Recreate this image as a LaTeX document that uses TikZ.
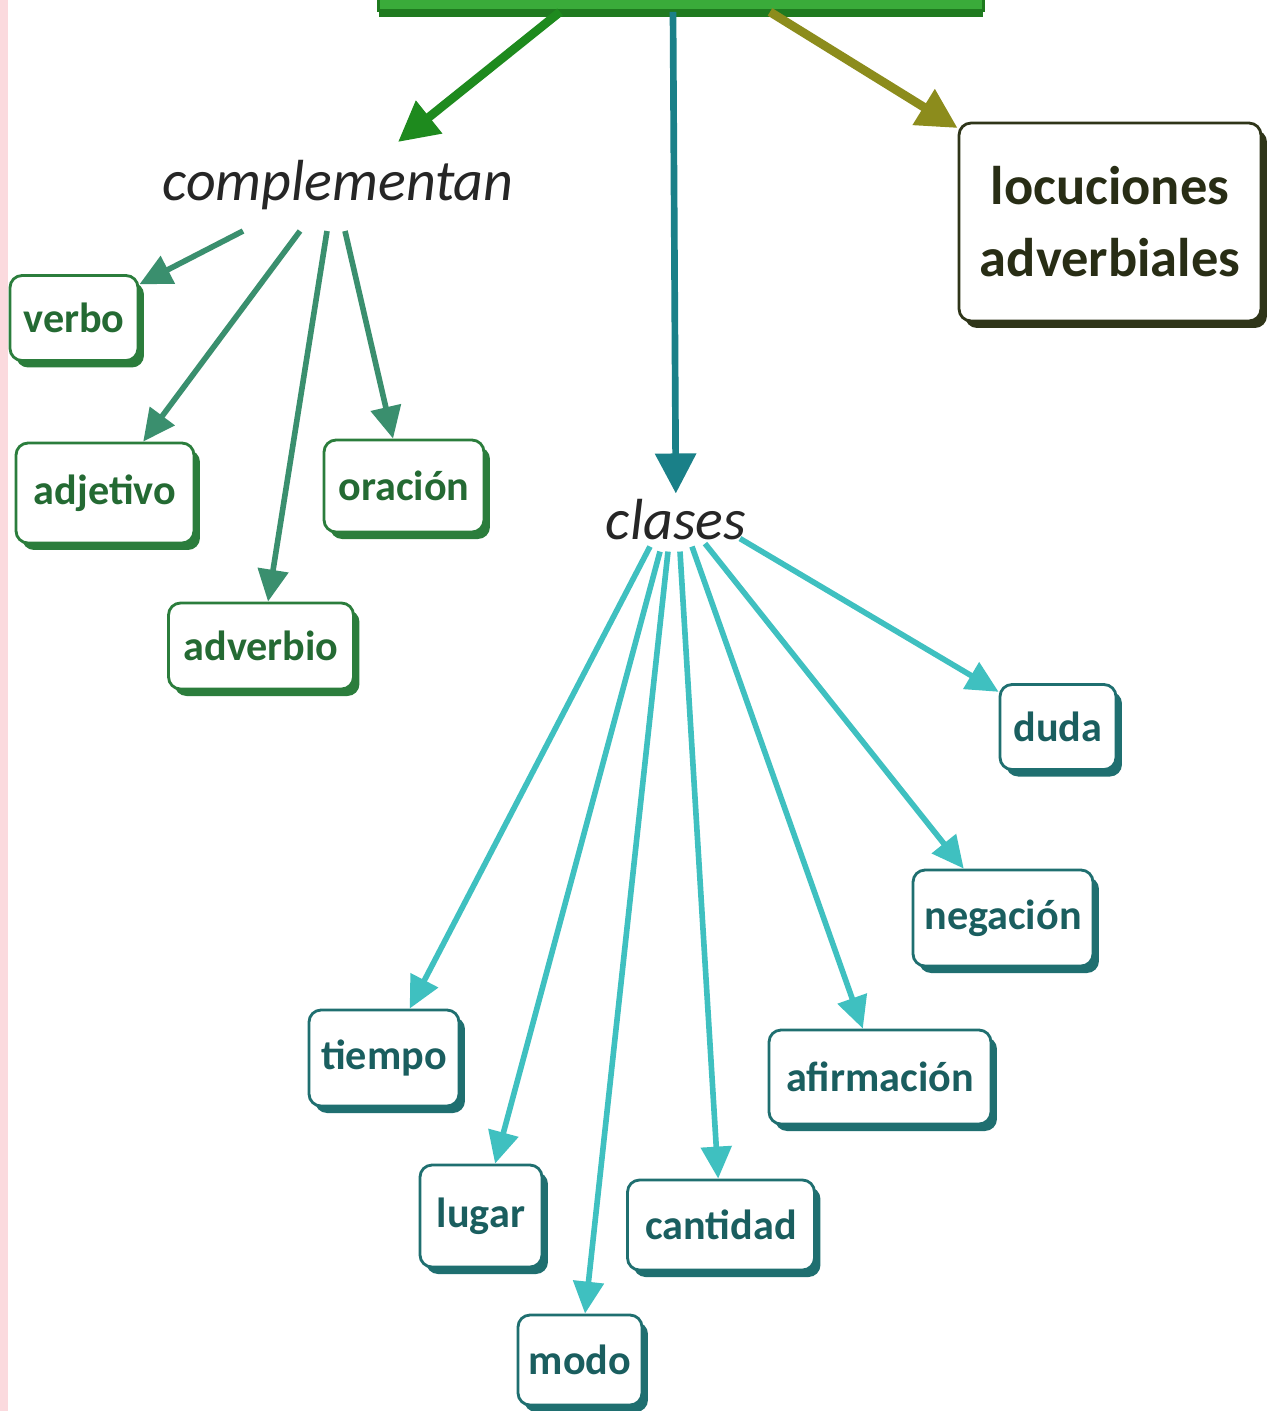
\documentclass[tikz,border=0pt]{standalone}
\usepackage{fontspec}
\setmainfont{Carlito}
\usetikzlibrary{arrows.meta,shadows}

\definecolor{rosa}{HTML}{FBDADE}
\definecolor{verdetema}{HTML}{3AAB3A}
\definecolor{verdeosc}{HTML}{1F7A1F}
\definecolor{flechaverde}{HTML}{1E8A1E}
\definecolor{flechaazul}{HTML}{1A8088}
\definecolor{flechaoliva}{HTML}{8C8C1C}
\definecolor{cajaverde}{HTML}{2B7D3C}
\definecolor{lineaverde}{HTML}{3A8F6E}
\definecolor{cajateal}{HTML}{1F6F70}
\definecolor{lineateal}{HTML}{3FC0C0}
\definecolor{oliva}{HTML}{2F3519}

\tikzset{
  caja/.style={draw=#1, text=#1!85!black, fill=white, line width=1.6pt,
    rounded corners=0.24cm, font=\fontsize{24}{28}\selectfont\bfseries,
    drop shadow={shadow xshift=0.12cm, shadow yshift=-0.14cm, opacity=1, fill=#1}},
  enlace/.style={font=\fontsize{33}{36}\selectfont\itshape, text=black!85},
  hijo/.style={draw=#1, line width=3.2pt,
    -{Triangle[length=0.64cm, width=0.6cm]}},
  rama/.style={draw=#1, line width=5pt,
    -{Triangle[length=0.8cm, width=0.8cm]}}
}

\begin{document}
\begin{tikzpicture}[x=0.02cm, y=-0.02cm]
\useasboundingbox (0,0) rectangle (1273,1411);
\fill[white] (0,0) rectangle (1273,1411);
\fill[rosa] (0,0) rectangle (8,1411);

\node (tema) [draw=verdeosc, fill=verdetema, line width=1.6pt,
  minimum width=12.1cm, minimum height=1.7cm,
  drop shadow={shadow xshift=0cm, shadow yshift=-0.14cm, opacity=1, fill=verdeosc}]
  at (681,-32) {};

\node (compl) [enlace] at (338,185) {complementan};
\node (clases) [enlace] at (676,520) {clases};

\node (locuc) [caja=oliva, align=center, minimum width=6.04cm, minimum height=3.96cm,
  font=\fontsize{31}{41}\selectfont\bfseries] at (1110,222) {locuciones\\adverbiales};

\node (verbo) [caja=cajaverde, minimum width=2.56cm, minimum height=1.7cm] at (74,318) {verbo};
\node (adjetivo) [caja=cajaverde, minimum width=3.56cm, minimum height=2cm] at (105,493) {adjetivo};
\node (oracion) [caja=cajaverde, minimum width=3.2cm, minimum height=1.84cm] at (404,486) {oración};
\node (adverbio) [caja=cajaverde, minimum width=3.7cm, minimum height=1.72cm] at (261,646) {adverbio};

\node (duda) [caja=cajateal, minimum width=2.32cm, minimum height=1.7cm] at (1058,727) {duda};
\node (negacion) [caja=cajateal, minimum width=3.6cm, minimum height=1.92cm] at (1003,918) {negación};
\node (tiempo) [caja=cajateal, minimum width=3cm, minimum height=1.92cm] at (384,1058) {tiempo};
\node (afirmacion) [caja=cajateal, minimum width=4.44cm, minimum height=1.88cm] at (880,1077) {afirmación};
\node (lugar) [caja=cajateal, minimum width=2.44cm, minimum height=2.04cm] at (481,1216) {lugar};
\node (cantidad) [caja=cajateal, minimum width=3.74cm, minimum height=1.8cm] at (721,1225) {cantidad};
\node (modo) [caja=cajateal, minimum width=2.48cm, minimum height=1.8cm] at (580,1360) {modo};

\draw[rama=flechaverde] ([xshift=-2.42cm]tema.south) -- ([xshift=1.2cm, yshift=0.24cm]compl.north);
\draw[rama=flechaazul, line width=3.8pt] ([xshift=-0.16cm]tema.south) -- (clases);
\draw[rama=flechaoliva] ([xshift=1.78cm]tema.south) -- (locuc);

\draw[hijo=lineaverde] ([xshift=-1.9cm, yshift=-0.3cm]compl.south) -- (verbo);
\draw[hijo=lineaverde] ([xshift=-0.76cm, yshift=-0.3cm]compl.south) -- (adjetivo);
\draw[hijo=lineaverde] ([xshift=-0.22cm, yshift=-0.3cm]compl.south) -- (adverbio);
\draw[hijo=lineaverde] ([xshift=0.14cm, yshift=-0.3cm]compl.south) -- (oracion);

\draw[hijo=lineateal] ([xshift=-0.52cm]clases.south) -- (tiempo);
\draw[hijo=lineateal] ([xshift=-0.32cm, yshift=-0.1cm]clases.south) -- (lugar);
\draw[hijo=lineateal] ([xshift=-0.16cm, yshift=-0.1cm]clases.south) -- (modo);
\draw[hijo=lineateal] ([xshift=0.08cm, yshift=-0.1cm]clases.south) -- (cantidad);
\draw[hijo=lineateal] ([xshift=0.32cm]clases.south) -- (afirmacion);
\draw[hijo=lineateal] ([xshift=0.58cm, yshift=0.06cm]clases.south) -- (negacion);
\draw[hijo=lineateal] ([xshift=1.28cm, yshift=0.16cm]clases.south) -- (duda);
\end{tikzpicture}
\end{document}
